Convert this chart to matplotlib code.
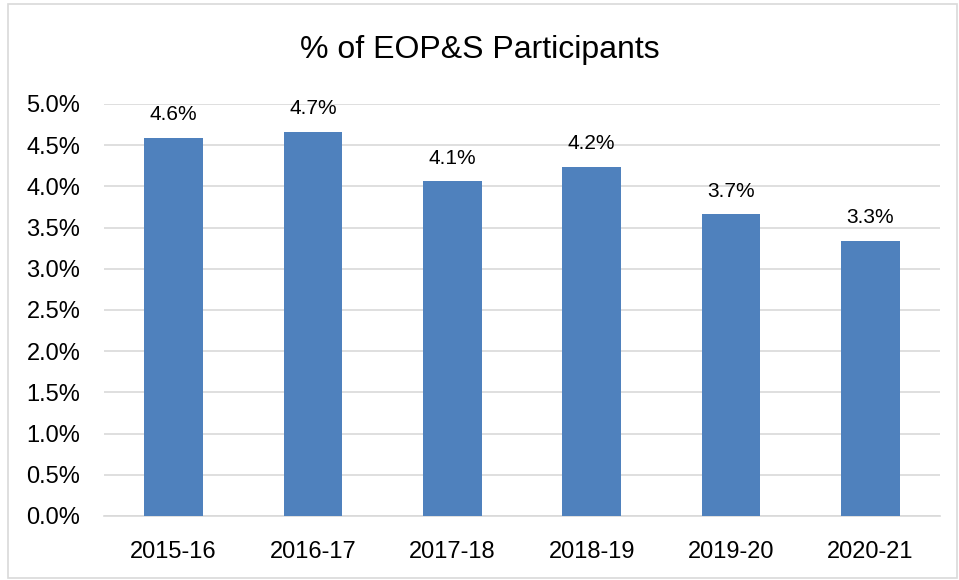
import matplotlib.pyplot as plt
from matplotlib import ticker
from matplotlib.patches import Rectangle

YEARS = ["2015-16", "2016-17", "2017-18", "2018-19", "2019-20", "2020-21"]
PCT = [4.59, 4.66, 4.06, 4.24, 3.66, 3.34]
BAR_COLOR = "#4F81BD"

plt.rcParams['font.family'] = ['Liberation Sans', 'DejaVu Sans']

fig = plt.figure(figsize=(9.59, 5.80), dpi=100)
# outer chart border
fig.patches.append(Rectangle((8 / 959, 2 / 580), 949 / 959, 574 / 580,
                             transform=fig.transFigure, fill=False,
                             edgecolor="#D9D9D9", linewidth=1.2))
ax = fig.add_axes([104 / 959, 64 / 580, 836 / 959, 412 / 580])

x = range(len(YEARS))
bars = ax.bar(x, PCT, width=0.42, color=BAR_COLOR, zorder=3)
for b, v in zip(bars, PCT):
    ax.annotate("%.1f%%" % v, (b.get_x() + b.get_width() / 2, v),
                xytext=(0, 10), textcoords="offset points",
                ha="center", va="bottom", fontsize=15)

ax.set_xlim(-0.5, len(YEARS) - 0.5)
ax.set_ylim(0, 5.0)
ax.yaxis.set_major_locator(ticker.MultipleLocator(0.5))
ax.yaxis.set_major_formatter(ticker.FuncFormatter(lambda v, p: "%.1f%%" % v))
ax.set_xticks(list(x))
ax.set_xticklabels(YEARS)
ax.tick_params(axis="both", length=0, labelsize=17)
ax.tick_params(axis="y", pad=17)
ax.tick_params(axis="x", pad=18)
ax.grid(axis="y", color="#D9D9D9", linewidth=1.2, zorder=0)
for s in ["top", "right", "left"]:
    ax.spines[s].set_visible(False)
ax.spines["bottom"].set_color("#D9D9D9")
ax.spines["bottom"].set_linewidth(1.2)

fig.text(0.5, 1 - 50 / 580, "% of EOP&S Participants", ha="center", va="center",
         fontsize=23)

fig.savefig("out.png", dpi=100)
